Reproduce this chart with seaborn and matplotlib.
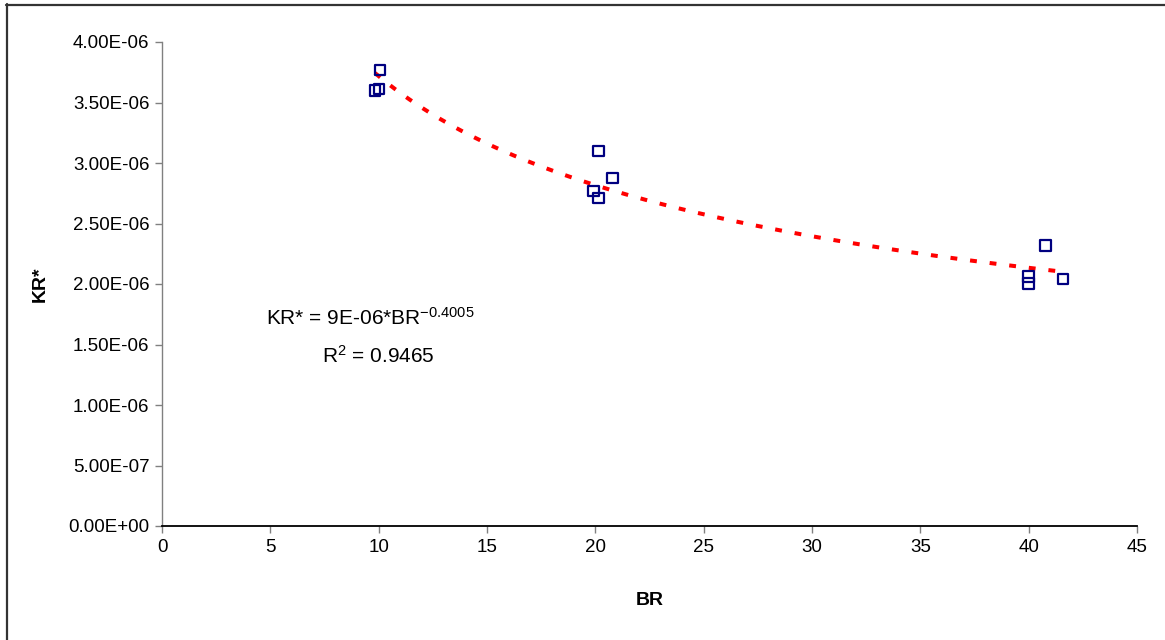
import numpy as np
import pandas as pd
import matplotlib
matplotlib.use("Agg")
import matplotlib.pyplot as plt
from matplotlib.ticker import FuncFormatter
import seaborn as sns

# Measured points
br = [9.83, 10.01, 10.06,
      19.91, 20.15, 20.15, 20.79,
      39.99, 39.99, 40.77, 41.60]
kr = [3.60e-6, 3.61e-6, 3.77e-6,
      2.77e-6, 3.10e-6, 2.71e-6, 2.876e-6,
      2.062e-6, 2.004e-6, 2.318e-6, 2.04e-6]

# Power trend line KR* = a * BR^b
trend_coef = 9.35e-6
trend_exp = -0.4005
r_squared = 0.9465

x_ticks = [0, 5, 10, 15, 20, 25, 30, 35, 40, 45]
y_ticks = [0.0, 0.5e-6, 1.0e-6, 1.5e-6, 2.0e-6, 2.5e-6, 3.0e-6, 3.5e-6, 4.0e-6]

df = pd.DataFrame({"BR": br, "KR*": kr})

sns.set_style("white")
plt.rcParams["font.family"] = ["Liberation Sans", "DejaVu Sans"]
plt.rcParams["mathtext.fontset"] = "custom"
plt.rcParams["mathtext.rm"] = "Liberation Sans"
plt.rcParams["mathtext.it"] = "Liberation Sans"
plt.rcParams["mathtext.bf"] = "Liberation Sans:bold"
plt.rcParams["text.color"] = "black"
plt.rcParams["axes.labelcolor"] = "black"

fig = plt.figure(figsize=(11.65, 6.4), dpi=100)
ax = fig.add_axes([162 / 1165, 1 - 526 / 640, (1137 - 162) / 1165, (526 - 42) / 640])

# trend line across the sampled range
xt = np.linspace(min(br), max(br), 200)
yt = trend_coef * xt ** trend_exp
ax.plot(xt, yt, color="#ff0000", lw=2.9, dashes=(1.7, 3.2), zorder=2)

sns.scatterplot(data=df, x="BR", y="KR*", ax=ax, marker="s", s=55,
                facecolor="none", edgecolor="#000080", linewidth=1.6, zorder=3)

ax.set_xlim(0, 45)
ax.set_ylim(0, 4.0e-6)
ax.set_xticks(x_ticks)
ax.set_yticks(y_ticks)
ax.yaxis.set_major_formatter(FuncFormatter(lambda v, p: "%.2E" % v))
ax.tick_params(axis="both", labelsize=13.5, length=5, width=1, color="#808080",
               labelcolor="black", direction="out", pad=4, bottom=True, left=True)

for side in ("top", "right"):
    ax.spines[side].set_visible(False)
ax.spines["left"].set_color("#808080")
ax.spines["bottom"].set_color("black")
ax.spines["left"].set_linewidth(1)
ax.spines["bottom"].set_linewidth(1.3)

ax.set_xlabel("BR", fontsize=14, fontweight="bold", labelpad=26)
ax.set_ylabel("KR*", fontsize=14, fontweight="bold", labelpad=14)

ax.text(9.6, 1.72e-6, r"KR* = 9E-06*BR$^{-0.4005}$", fontsize=15,
        ha="center", va="center")
ax.text(10.0, 1.41e-6, r"R$^{2}$ = %.4f" % r_squared, fontsize=15,
        ha="center", va="center")

# chart frame (left and top edges)
fig.add_artist(plt.Line2D([7 / 1165, 7 / 1165], [0, 1 - 4 / 640],
                          transform=fig.transFigure, color="#333333", lw=1.6))
fig.add_artist(plt.Line2D([6 / 1165, 1], [1 - 5 / 640, 1 - 5 / 640],
                          transform=fig.transFigure, color="#333333", lw=1.6))

fig.savefig("out.png", dpi=100)
